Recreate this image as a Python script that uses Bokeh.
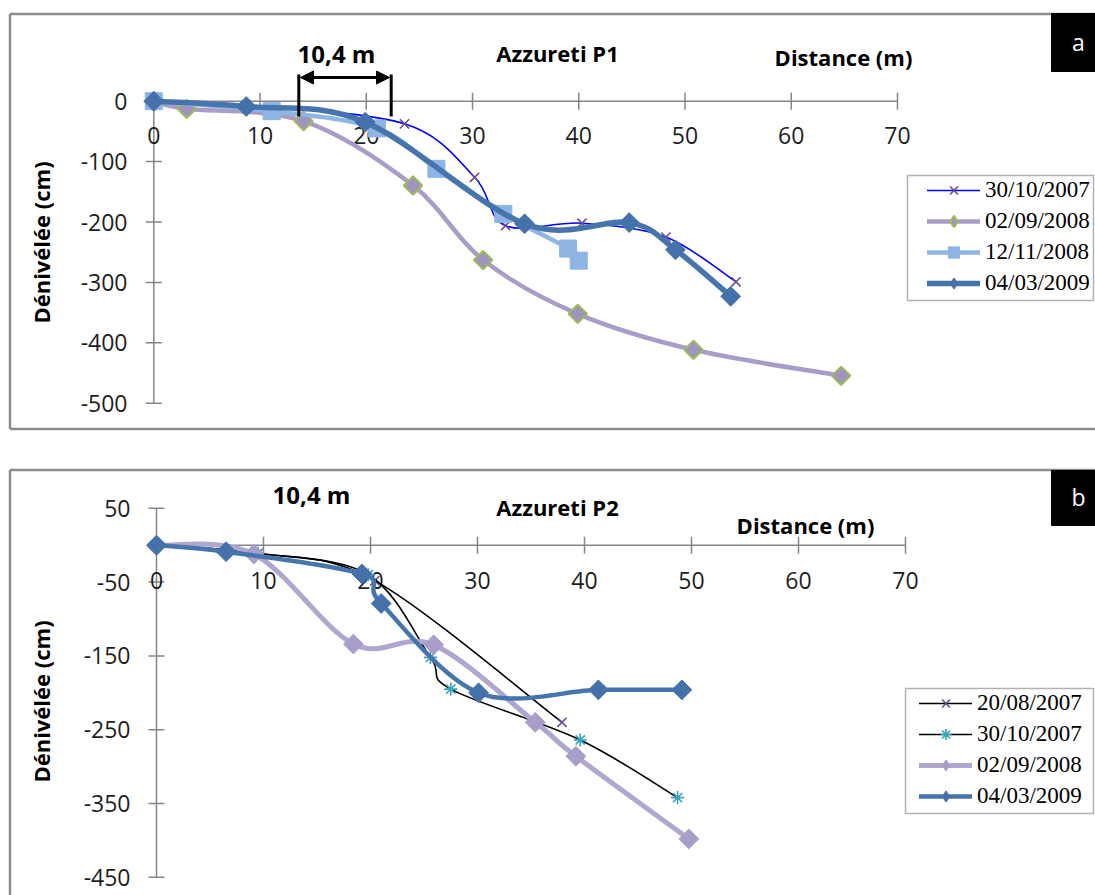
import math
from bokeh.plotting import figure
from bokeh.models import Legend, LegendItem, Arrow, NormalHead, BoxAnnotation, ColumnDataSource
from bokeh.layouts import column
from bokeh.embed import file_html
from bokeh.resources import INLINE
from bokeh.core.properties import value

# ---------------- data : panel a (Azzureti P1) ----------------
a_title = "Azzureti P1"
a_labels = ["30/10/2007", "02/09/2008", "12/11/2008", "04/03/2009"]
a_x_20071030 = [0, 8.7, 23.6, 30.2, 33.1, 40.3, 48.2, 54.8]
a_y_20071030 = [0, -7, -37.5, -126, -206, -202, -225, -299]
a_x_20080902 = [0, 3.1, 14.1, 24.4, 31.0, 39.9, 50.8, 64.7]
a_y_20080902 = [0, -12.6, -33, -139.6, -263, -352, -411.6, -454.6]
a_x_20081112 = [0, 11.1, 21.0, 26.6, 32.9, 39.0, 40.0]
a_y_20081112 = [0, -16.5, -45, -112, -186.5, -244, -264]
a_x_20090304 = [0, 8.7, 19.9, 34.9, 44.75, 49.1, 54.3]
a_y_20090304 = [0, -8.8, -34.7, -203, -201, -246, -323]
a_xticks = [0, 10, 20, 30, 40, 50, 60, 70]
a_yticks = [0, -100, -200, -300, -400, -500]

# ---------------- data : panel b (Azzureti P2) ----------------
b_title = "Azzureti P2"
b_labels = ["20/08/2007", "30/10/2007", "02/09/2008", "04/03/2009"]
b_x_20070820 = [0, 9.5, 20.4, 37.9]
b_y_20070820 = [0, -11, -48, -240]
b_x_20071030 = [0, 9.5, 19.8, 25.6, 27.5, 39.6, 48.7]
b_y_20071030 = [0, -11, -40, -152, -195, -264, -342]
b_x_20080902 = [0, 9.1, 18.4, 25.9, 35.4, 39.2, 49.75]
b_y_20080902 = [0, -12, -134, -135, -240, -286, -398]
b_x_20090304 = [0, 6.5, 19.2, 21.0, 30.1, 41.3, 49.1]
b_y_20090304 = [0, -8.8, -39, -79, -200, -196, -196]
b_xticks = [0, 10, 20, 30, 40, 50, 60, 70]
b_yticks = [50, -50, -150, -250, -350, -450]

x_title = "Distance (m)"
y_title = "Dénivélée (cm)"
span_label = "10,4 m"

FONT = "Open Sans"
LEG_FONT = "Liberation Serif"
AXIS_GRAY = "#868686"
BORDER_GRAY = "#8c8c8c"
PAGE_L, PAGE_R = 0, 1095


class Panel:
    def __init__(self, top, height, x0px, sx, y0px, sy):
        self.top, self.height = top, height
        self.x0px, self.sx, self.y0px, self.sy = x0px, sx, y0px, sy
        p = figure(width=PAGE_R - PAGE_L, height=height,
                   x_range=((PAGE_L - x0px) / sx, (PAGE_R - x0px) / sx),
                   y_range=(-(top + height - y0px) / sy, (y0px - top) / sy),
                   output_backend="svg", toolbar_location=None,
                   x_axis_location=None, y_axis_location=None,
                   min_border=0, min_border_left=0, min_border_right=0,
                   min_border_top=0, min_border_bottom=0)
        p.title.visible = False
        p.grid.visible = False
        p.outline_line_color = None
        p.background_fill_color = "white"
        p.border_fill_color = "white"
        self.p = p

    def X(self, px):
        return (px - self.x0px) / self.sx

    def Y(self, py):
        return -(py - self.y0px) / self.sy


def smooth(xs, ys):
    n = len(xs)
    d = dict(x0=[], y0=[], x1=[], y1=[], cx0=[], cy0=[], cx1=[], cy1=[])
    for i in range(n - 1):
        i0, i3 = max(i - 1, 0), min(i + 2, n - 1)
        d["x0"].append(xs[i]); d["y0"].append(ys[i])
        d["x1"].append(xs[i + 1]); d["y1"].append(ys[i + 1])
        d["cx0"].append(xs[i] + (xs[i + 1] - xs[i0]) / 6)
        d["cy0"].append(ys[i] + (ys[i + 1] - ys[i0]) / 6)
        d["cx1"].append(xs[i + 1] - (xs[i3] - xs[i]) / 6)
        d["cy1"].append(ys[i + 1] - (ys[i3] - ys[i]) / 6)
    return ColumnDataSource(d)


def series(p, xs, ys, lcolor, lwidth, marker, msize, mfill, mline, mlw=1.5, rotated=False):
    lr = p.bezier(x0="x0", y0="y0", x1="x1", y1="y1", cx0="cx0", cy0="cy0",
                  cx1="cx1", cy1="cy1", source=smooth(xs, ys),
                  line_color=lcolor, line_width=lwidth, line_cap="round")
    mr = p.scatter(x=xs, y=ys, marker=marker, size=msize,
                   angle=math.pi / 4 if rotated else 0.0,
                   fill_color=mfill, line_color=mline, line_width=mlw)
    if rotated:
        # legend swatch only: a hidden diamond renderer (legend markers are drawn unrotated)
        lg = p.scatter(x=xs, y=ys, marker="diamond", size=msize,
                       fill_color=mfill, line_color=mline, line_width=mlw, visible=False)
        return [lr, lg]
    return [lr, mr]


def text(p, x, y, s, size, bold=False, align="center", color="black", angle=0.0, font=FONT):
    p.text(x=[x], y=[y], text=[s], text_font=value(font), text_font_size=value(size),
           text_font_style="bold" if bold else "normal", text_align=align,
           text_baseline="middle", text_color=color, angle=angle)


def axes(P, xticks, yticks, xlab_py, ylab_px):
    p = P.p
    p.segment(x0=[0], y0=[min(yticks)], x1=[0], y1=[max(yticks)], line_color=AXIS_GRAY, line_width=1.5)
    p.segment(x0=[min(xticks)], y0=[0], x1=[max(xticks)], y1=[0], line_color=AXIS_GRAY, line_width=1.5)
    tx, ty = 8 / P.sx, 8.5 / P.sy
    p.segment(x0=[-tx] * len(yticks), y0=yticks, x1=[tx] * len(yticks), y1=yticks,
              line_color=AXIS_GRAY, line_width=1.5)
    p.segment(x0=xticks, y0=[-ty] * len(xticks), x1=xticks, y1=[ty] * len(xticks),
              line_color=AXIS_GRAY, line_width=1.5)
    p.text(x=[P.X(ylab_px)] * len(yticks), y=yticks, text=[str(v) for v in yticks],
           text_font=value(FONT), text_font_size=value("23px"), text_align="right",
           text_baseline="middle", text_color="#1e1e1e")
    p.text(x=xticks, y=[P.Y(xlab_py)] * len(xticks), text=[str(v) for v in xticks],
           text_font=value(FONT), text_font_size=value("23px"), text_align="center",
           text_baseline="middle", text_color="#1e1e1e")


def borders(P, top_py, bottom_py=None):
    p = P.p
    xl = P.X(9.5)
    xr = P.X(PAGE_R + 5)
    yt = P.Y(top_py)
    yb = P.Y(bottom_py) if bottom_py is not None else P.Y(P.top + P.height + 5)
    p.segment(x0=[xl, xl], y0=[yt, yt], x1=[xl, xr], y1=[yb, yt], line_color=BORDER_GRAY, line_width=2.5)
    if bottom_py is not None:
        p.segment(x0=[xl], y0=[yb], x1=[xr], y1=[yb], line_color=BORDER_GRAY, line_width=2.5)


def legend_box(P, items, left, top, right, bottom, glyph_left, first_row_cy):
    p = P.p
    p.add_layout(BoxAnnotation(left=P.X(left), right=P.X(right), top=P.Y(top), bottom=P.Y(bottom),
                               fill_color="white", fill_alpha=1.0, line_color="black", line_width=1.5))
    row_h, gap = 28, 3
    n = len(items)
    leg_h = n * row_h + (n - 1) * gap
    leg_top = first_row_cy - row_h / 2
    leg = Legend(items=items, location=(glyph_left - PAGE_L, P.top + P.height - (leg_top + leg_h)),
                 padding=0, margin=0, spacing=gap, label_height=row_h, glyph_height=row_h,
                 glyph_width=53, label_standoff=5, label_text_font=LEG_FONT,
                 label_text_font_size="23px", label_text_color="black",
                 border_line_color=None, background_fill_alpha=0.0)
    p.add_layout(leg)


def tag(P, letter, left, top, right, bottom, cx, cy):
    p = P.p
    p.quad(left=[P.X(left)], right=[P.X(right)], top=[P.Y(top)], bottom=[P.Y(bottom)],
           fill_color="black", line_color="black")
    text(p, P.X(cx), P.Y(cy), letter, "23px", color="white")


# ======================= panel a =======================
A = Panel(top=0, height=448, x0px=153.3, sx=10.624, y0px=100.7, sy=0.604)
pa = A.p
borders(A, 13.5, 428.5)
axes(A, a_xticks, a_yticks, 135, 127)

ra1 = series(pa, a_x_20071030, a_y_20071030, "#0000ff", 1.6, "x", 13, None, "#6b4c8c", 1.6)
ra2 = series(pa, a_x_20080902, a_y_20080902, "#a99cc8", 4.5, "square", 13, "#a093c0", "#9bbb59", 2.0, True)
ra3 = series(pa, a_x_20081112, a_y_20081112, "#8fb5e3", 4.5, "square", 17, "#8db4e3", "#8db4e3", 1.0)
ra4 = series(pa, a_x_20090304, a_y_20090304, "#4675ae", 5.5, "square", 14, "#4571aa", "#4571aa", 1.0, True)

text(pa, A.X(557), A.Y(52), a_title, "22px", bold=True)
text(pa, A.X(843), A.Y(56), x_title, "22px", bold=True)
text(pa, A.X(40), A.Y(242), y_title, "22px", bold=True, angle=math.pi / 2)
text(pa, A.X(336), A.Y(53), span_label, "24px", bold=True)
pa.segment(x0=[A.X(298.3), A.X(390.7)], y0=[A.Y(74), A.Y(74)],
           x1=[A.X(298.3), A.X(390.7)], y1=[A.Y(116), A.Y(116)], line_color="black", line_width=3)
pa.add_layout(Arrow(start=NormalHead(size=13, fill_color="black", line_color="black"),
                    end=NormalHead(size=13, fill_color="black", line_color="black"),
                    x_start=A.X(300), y_start=A.Y(77), x_end=A.X(389), y_end=A.Y(77),
                    line_color="black", line_width=3))
tag(A, "a", 1051, 13, 1100, 71, 1078, 41)
legend_box(A, [LegendItem(label=l, renderers=r) for l, r in zip(a_labels, [ra1, ra2, ra3, ra4])],
           907, 175, 1093, 300, 927, 190)

# ======================= panel b =======================
B = Panel(top=448, height=447, x0px=156.0, sx=10.7, y0px=544.7, sy=0.738)
pb = B.p
borders(B, 469.5)
axes(B, b_xticks, b_yticks, 580, 130)

rb1 = series(pb, b_x_20070820, b_y_20070820, "black", 1.6, "x", 13, None, "#6b4c8c", 1.6)
rb2 = series(pb, b_x_20071030, b_y_20071030, "black", 1.6, "asterisk", 13, None, "#35a3bd", 1.6)
rb3 = series(pb, b_x_20080902, b_y_20080902, "#b0a6d0", 5.0, "square", 14, "#a99ec9", "#a99ec9", 1.0, True)
rb4 = series(pb, b_x_20090304, b_y_20090304, "#4675ae", 4.5, "square", 14, "#4571aa", "#4571aa", 1.0, True)

text(pb, B.X(557), B.Y(506), b_title, "22px", bold=True)
text(pb, B.X(805), B.Y(524), x_title, "22px", bold=True)
text(pb, B.X(40), B.Y(701), y_title, "22px", bold=True, angle=math.pi / 2)
text(pb, B.X(311), B.Y(494), span_label, "24px", bold=True)
tag(B, "b", 1051, 470, 1100, 525, 1078, 496)
legend_box(B, [LegendItem(label=l, renderers=r) for l, r in zip(b_labels, [rb1, rb2, rb3, rb4])],
           905, 688, 1093, 813, 919, 703.3)

layout = column(pa, pb, spacing=0)
open("out.html", "w").write(file_html(layout, INLINE))
